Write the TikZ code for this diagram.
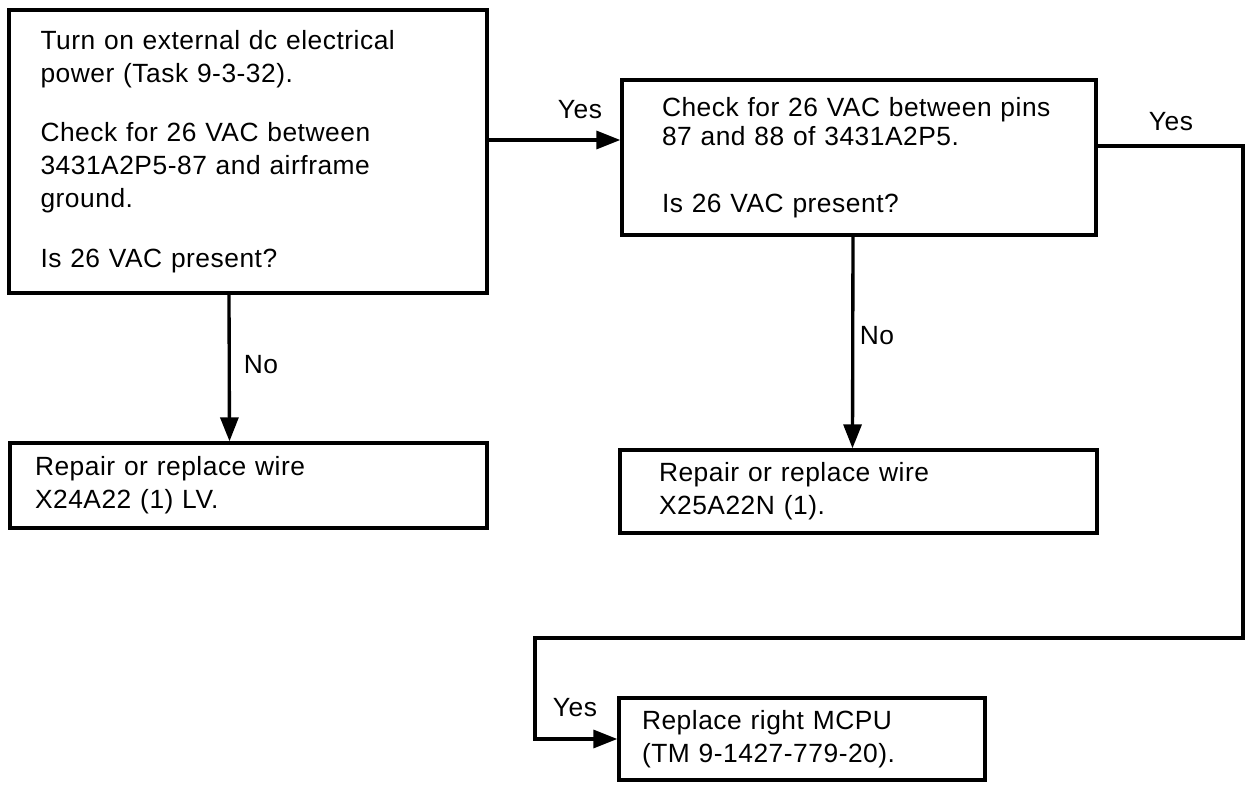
\documentclass[tikz,border=0pt]{standalone}
\usepackage{fontspec}
\setmainfont[LetterSpace=2]{Liberation Sans}
\usetikzlibrary{arrows.meta,positioning}

\begin{document}
\begin{tikzpicture}[x=1cm, y=-1cm,
  box/.style={draw, line width=1.9pt, align=left, inner ysep=0pt,
              font=\fontsize{15}{18.8}\selectfont},
  lbl/.style={font=\fontsize{15}{18}\selectfont, inner sep=1pt},
  arr/.style={-{Triangle[length=0.48cm, width=0.36cm]}, line width=1.9pt}
]
\useasboundingbox (0,0) rectangle (24.9,15.74);

\node[box, minimum width=9.56cm, minimum height=5.66cm, text width=8.3cm,
      inner xsep=0.63cm] (check1) at (4.96,3.03)
      {Turn on external dc electrical\\
       power (Task 9-3-32).\\[15pt]
       Check for 26 VAC between\\
       3431A2P5-87 and airframe\\
       ground.\\[15pt]
       Is 26 VAC present?};
\node[box, minimum width=9.48cm, minimum height=3.1cm, text width=7.88cm,
      inner xsep=0.8cm] (check2) at (17.18,3.15)
      {Check for 26 VAC between pins\\[-2pt]
       87 and 88 of 3431A2P5.\\[19pt]
       Is 26 VAC present?};
\node[box, minimum width=9.54cm, minimum height=1.7cm, text width=8.54cm,
      inner xsep=0.5cm] (fix1) at (4.97,9.71)
      {Repair or replace wire\\
       X24A22 (1) LV.};
\node[box, minimum width=9.54cm, minimum height=1.66cm, text width=7.98cm,
      inner xsep=0.78cm] (fix2) at (17.17,9.83)
      {Repair or replace wire\\
       X25A22N (1).};
\node[box, minimum width=7.32cm, minimum height=1.64cm, text width=6.4cm,
      inner xsep=0.46cm] (mcpu) at (16.04,14.78)
      {Replace right MCPU\\
       (TM 9-1427-779-20).};

\node[lbl] (yesA) at (11.6,2.2) {Yes};
\node[lbl] (yesB) at (23.42,2.44) {Yes};
\node[lbl] (yesC) at (11.5,14.16) {Yes};
\node[lbl] (noA) at (5.22,7.3) {No};
\node[lbl] (noB) at (17.54,6.72) {No};

\coordinate (yes1) at (12,2.8);
\coordinate (turn1) at (24.86,2.92);
\coordinate (turn2) at (10.7,12.76);

\draw[arr] (check1.east |- yes1) -- (check2.west |- yes1);
\draw[arr] ([xshift=-0.38cm]check1.south) -- ([xshift=-0.38cm]fix1.north);
\draw[arr] ([xshift=-0.12cm]check2.south) -- ([xshift=-0.12cm]fix2.north);
\draw[arr] (check2.east |- turn1) -- (turn1) |- (turn2) |- (mcpu.west);
\end{tikzpicture}
\end{document}
